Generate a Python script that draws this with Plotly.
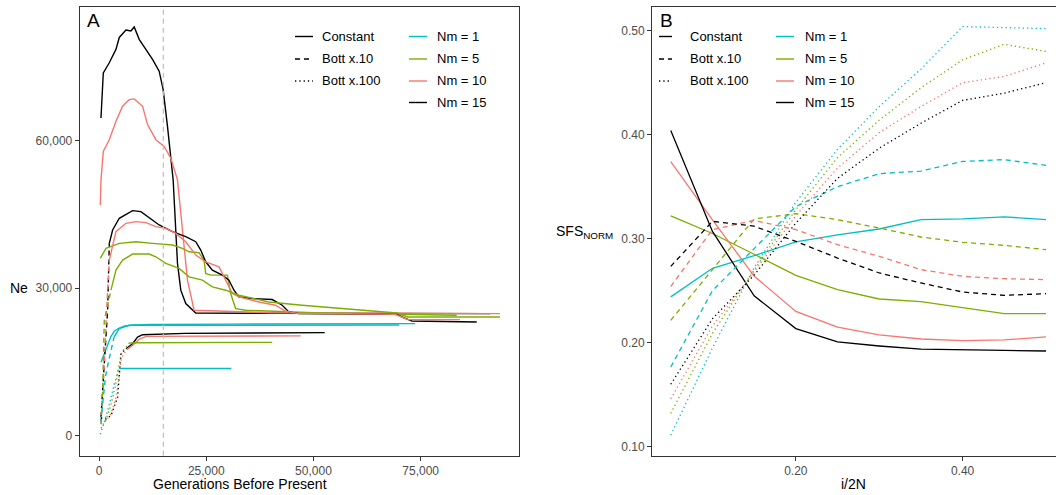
import plotly.graph_objects as go

# ---------------- Panel A data (Generations before present, Ne) ----------------
A_const_15_x = [465, 1000, 2400, 3950, 4730, 6280, 7440, 8210, 9370, 10930, 12480, 14030, 14960, 15970, 16740, 17290, 18300, 19070, 20230, 22560, 40000, 60000, 91160]
A_const_15_y = [64630, 73800, 75850, 78570, 81000, 82500, 82300, 83130, 80610, 78570, 76530, 74140, 70400, 62920, 56800, 52040, 35040, 29590, 26870, 24960, 24900, 24850, 24830]
A_const_10_x = [300, 465, 1000, 2400, 3950, 5500, 7050, 8210, 10160, 11330, 13260, 15190, 16740, 18300, 19460, 20630, 22170, 40000, 93490]
A_const_10_y = [46940, 52040, 57820, 60200, 63940, 67000, 68370, 68500, 67000, 63270, 60200, 58840, 56470, 52040, 41840, 31630, 25510, 25000, 24830]
A_const_5_x = [300, 1630, 4730, 8600, 12480, 17130, 19460, 21000, 23330, 24490, 24880, 26050, 29930, 30700, 31860, 34190, 50000, 83400]
A_const_5_y = [36060, 38100, 39120, 39450, 39120, 38780, 38100, 37410, 37210, 35710, 33000, 32650, 32650, 28920, 25850, 25510, 25000, 24490]
A_const_1_x = [465, 1200, 2000, 2800, 3600, 4700, 6000, 8000, 12000, 30000, 73720]
A_const_1_y = [14960, 16500, 18500, 20200, 21300, 21900, 22300, 22500, 22600, 22700, 22790]

A_b10_15_x = [465, 850, 1230, 2010, 2170, 2400, 3180, 4730, 7830, 9770, 11320, 14030, 17130, 20230, 22560, 23720, 24880, 26440, 28770, 30300, 31470, 32630, 35740, 40390, 42720, 44270, 46590, 69450, 71000, 72950, 88070]
A_b10_15_y = [3740, 9860, 14630, 25510, 31630, 39120, 41840, 44220, 45780, 45570, 44560, 42860, 41490, 40470, 39450, 37760, 35370, 33670, 32650, 31630, 29590, 28220, 27890, 27690, 26530, 25170, 24830, 24700, 24000, 23330, 23130]
A_b10_10_x = [465, 850, 1230, 1800, 2400, 3950, 6280, 8600, 10930, 13260, 15580, 17910, 20230, 22560, 24880, 27980, 29530, 31080, 32630, 37280, 41160, 43490, 46000, 69000, 72000, 84170]
A_b10_10_y = [2380, 8000, 15000, 26000, 35710, 41490, 43200, 43540, 43330, 42510, 42170, 41150, 39450, 36730, 35370, 34340, 31630, 28920, 28230, 27200, 26530, 25310, 24900, 24700, 23610, 23610]
A_b10_5_x = [465, 850, 1230, 2790, 3950, 5500, 7830, 11700, 13260, 15580, 18680, 21000, 24110, 26440, 29530, 32630, 39600, 47370, 57440, 69450, 72000, 93490]
A_b10_5_y = [2450, 9000, 23470, 29590, 33670, 35710, 36940, 36940, 36390, 35040, 34020, 32310, 31630, 30270, 29590, 28570, 27200, 26530, 25850, 24960, 24150, 24150]
A_b10_1_x = [465, 900, 1500, 2200, 2800, 3500, 4700, 7000, 10000, 20000, 70000]
A_b10_1_y = [3000, 7000, 12000, 15000, 17500, 20000, 21770, 22450, 22450, 22500, 22500]

A_b100_15_x = [465, 1630, 2790, 3950, 4340, 4570, 5120, 6280, 7830, 8990, 10160, 20000, 52630]
A_b100_15_y = [3610, 3400, 4080, 7140, 7820, 10550, 16670, 17690, 18710, 20070, 20540, 20800, 20960]
A_b100_10_x = [465, 1600, 2800, 3900, 4600, 5300, 6500, 8000, 9500, 11000, 47050]
A_b100_10_y = [2380, 3000, 4500, 7500, 11500, 16000, 17500, 18500, 19700, 20200, 20300]
A_b100_5_x = [465, 1500, 2700, 3800, 4600, 5300, 7050, 9000, 40390]
A_b100_5_y = [1500, 3000, 6000, 10000, 14000, 17000, 18840, 18900, 18980]
A_b100_1_x = [300, 1500, 2600, 3700, 4730, 30860]
A_b100_1_y = [300, 3500, 7000, 11000, 13670, 13670]

BOTTLENECK_GEN = 15000

# ---------------- Panel B data (i/2N, SFS_NORM) ----------------
B_x = [0.05, 0.10, 0.15, 0.20, 0.25, 0.30, 0.35, 0.40, 0.45, 0.50]
B_const_1 = [0.244, 0.2715, 0.2836, 0.297, 0.3036, 0.3093, 0.3183, 0.319, 0.321, 0.3183]
B_const_5 = [0.322, 0.305, 0.285, 0.2648, 0.251, 0.242, 0.2394, 0.2337, 0.228, 0.228]
B_const_10 = [0.374, 0.318, 0.264, 0.230, 0.215, 0.2074, 0.2035, 0.2019, 0.2026, 0.2055]
B_const_15 = [0.404, 0.307, 0.245, 0.2135, 0.2007, 0.1968, 0.1937, 0.1935, 0.1926, 0.192]
B_b10_1 = [0.1766, 0.250, 0.2904, 0.331, 0.350, 0.3625, 0.365, 0.3743, 0.376, 0.3705]
B_b10_5 = [0.2215, 0.270, 0.319, 0.324, 0.3183, 0.3103, 0.3016, 0.2965, 0.2936, 0.2894]
B_b10_10 = [0.254, 0.3087, 0.3176, 0.3087, 0.2942, 0.283, 0.2702, 0.2638, 0.2615, 0.2606]
B_b10_15 = [0.2734, 0.3167, 0.312, 0.2974, 0.2814, 0.267, 0.2574, 0.2487, 0.2455, 0.2471]
B_b100_1 = [0.111, 0.195, 0.272, 0.335, 0.386, 0.427, 0.463, 0.504, 0.503, 0.502]
B_b100_5 = [0.132, 0.209, 0.270, 0.328, 0.378, 0.414, 0.445, 0.472, 0.487, 0.480]
B_b100_10 = [0.146, 0.216, 0.268, 0.322, 0.368, 0.402, 0.427, 0.450, 0.456, 0.469]
B_b100_15 = [0.160, 0.223, 0.265, 0.315, 0.358, 0.387, 0.411, 0.433, 0.440, 0.450]

scenarios = ["Constant", "Bott x.10", "Bott x.100"]
migration = ["Nm = 1", "Nm = 5", "Nm = 10", "Nm = 15"]

# ---------------- styles ----------------
COL = {"Nm = 1": "#00BFC4", "Nm = 5": "#7CAE00", "Nm = 10": "#F8766D", "Nm = 15": "#000000"}
DASH = {"Constant": "solid", "Bott x.10": "5px,4px", "Bott x.100": "1.3px,3px"}
FONT = "Liberation Sans, Arial, Helvetica, sans-serif"
W, H = 1056, 495

A_series = [
    ("Constant", "Nm = 15", A_const_15_x, A_const_15_y, 0),
    ("Constant", "Nm = 10", A_const_10_x, A_const_10_y, 0),
    ("Constant", "Nm = 5", A_const_5_x, A_const_5_y, 0),
    ("Constant", "Nm = 1", A_const_1_x, A_const_1_y, 0),
    ("Bott x.10", "Nm = 15", A_b10_15_x, A_b10_15_y, 5),
    ("Bott x.10", "Nm = 10", A_b10_10_x, A_b10_10_y, 4),
    ("Bott x.10", "Nm = 5", A_b10_5_x, A_b10_5_y, 3),
    ("Bott x.10", "Nm = 1", A_b10_1_x, A_b10_1_y, 5),
    ("Bott x.100", "Nm = 15", A_b100_15_x, A_b100_15_y, 7),
    ("Bott x.100", "Nm = 10", A_b100_10_x, A_b100_10_y, 6),
    ("Bott x.100", "Nm = 5", A_b100_5_x, A_b100_5_y, 6),
    ("Bott x.100", "Nm = 1", A_b100_1_x, A_b100_1_y, 4),
]

B_series = [
    ("Constant", "Nm = 1", B_const_1), ("Constant", "Nm = 5", B_const_5),
    ("Constant", "Nm = 10", B_const_10), ("Constant", "Nm = 15", B_const_15),
    ("Bott x.10", "Nm = 1", B_b10_1), ("Bott x.10", "Nm = 5", B_b10_5),
    ("Bott x.10", "Nm = 10", B_b10_10), ("Bott x.10", "Nm = 15", B_b10_15),
    ("Bott x.100", "Nm = 1", B_b100_1), ("Bott x.100", "Nm = 5", B_b100_5),
    ("Bott x.100", "Nm = 10", B_b100_10), ("Bott x.100", "Nm = 15", B_b100_15),
]

fig = go.Figure()

# Panel A: leading (rising) part keeps the scenario dash, long dense plateau reads solid
for scen, nm, xs, ys, n in A_series:
    if n > 0:
        fig.add_trace(go.Scatter(x=xs[:n + 1], y=ys[:n + 1], mode="lines", xaxis="x", yaxis="y",
                                 line=dict(color=COL[nm], width=1.4, dash=DASH[scen]), showlegend=False))
        fig.add_trace(go.Scatter(x=xs[n:], y=ys[n:], mode="lines", xaxis="x", yaxis="y",
                                 line=dict(color=COL[nm], width=1.4), showlegend=False))
    else:
        fig.add_trace(go.Scatter(x=xs, y=ys, mode="lines", xaxis="x", yaxis="y",
                                 line=dict(color=COL[nm], width=1.4), showlegend=False))

for scen, nm, ys in B_series:
    fig.add_trace(go.Scatter(x=B_x, y=ys, mode="lines", xaxis="x2", yaxis="y2",
                             line=dict(color=COL[nm], width=1.3, dash=DASH[scen]), showlegend=False))

def px(x):
    return x / W

def py(y):
    return 1 - y / H

yd = [py(455.7), py(7.3)]
axis_common = dict(showgrid=False, zeroline=False, showline=True, linecolor="#333333", linewidth=1,
                   ticks="outside", ticklen=4, tickwidth=1, tickcolor="#333333",
                   tickfont=dict(family=FONT, size=12, color="#4D4D4D"))

fig.update_layout(
    width=W, height=H, margin=dict(l=0, r=0, t=0, b=0),
    paper_bgcolor="white", plot_bgcolor="white", showlegend=False,
    font=dict(family=FONT),
    xaxis=dict(domain=[px(79.7), px(519.3)], range=[-4500, 98000], anchor="y", mirror=True,
               tickvals=[0, 25000, 50000, 75000], tickformat=",", **axis_common),
    yaxis=dict(domain=yd, range=[-4070, 87130], anchor="x", mirror=True,
               tickvals=[0, 30000, 60000], tickformat=",", **axis_common),
    xaxis2=dict(domain=[px(652), 1.0], range=[0.0275, 0.512], anchor="y2", mirror=True,
                tickvals=[0.2, 0.4], tickformat=".2f", **axis_common),
    yaxis2=dict(domain=yd, range=[0.0913, 0.5225], anchor="x2", mirror=False,
                tickvals=[0.1, 0.2, 0.3, 0.4, 0.5], tickformat=".2f", **axis_common),
)

# bottleneck marker
fig.add_shape(type="line", xref="x", yref="y domain", x0=BOTTLENECK_GEN, x1=BOTTLENECK_GEN, y0=0, y1=1,
              line=dict(color="#BEBEBE", width=1.2, dash="5px,4px"))

ann = []
def text(x, y, s, size, anchor="left", color="#000000"):
    ann.append(dict(x=px(x), y=py(y), xref="paper", yref="paper", text=s, showarrow=False,
                    xanchor=anchor, yanchor="middle", borderpad=0,
                    font=dict(family=FONT, size=size, color=color)))

# panel letters and axis titles
text(86, 20, "A", 19)
text(659, 20, "B", 19)
text(240, 484, "Generations Before Present", 14, "center")
text(853, 484, "i/2N", 14, "center")
text(9, 288, "Ne", 14)
text(555, 232, "SFS<sub>NORM</sub>", 14)

# legends (two columns each)
rows = [36.5, 59, 81, 102.5]
def legend(c1_key, c1_txt, c2_key, c2_txt):
    for i, s in enumerate(scenarios):
        fig.add_shape(type="line", xref="paper", yref="paper", x0=px(c1_key[0]), x1=px(c1_key[1]),
                      y0=py(rows[i]), y1=py(rows[i]), line=dict(color="#000000", width=1.4, dash=DASH[s]))
        text(c1_txt, rows[i], s, 13)
    for i, m in enumerate(migration):
        fig.add_shape(type="line", xref="paper", yref="paper", x0=px(c2_key[0]), x1=px(c2_key[1]),
                      y0=py(rows[i]), y1=py(rows[i]), line=dict(color=COL[m], width=1.4))
        text(c2_txt, rows[i], m, 13)

legend((295, 313), 321, (409, 427), 436)
legend((659, 672), 689, (776, 794), 804)

fig.update_layout(annotations=ann)
fig.write_html("out.html")
